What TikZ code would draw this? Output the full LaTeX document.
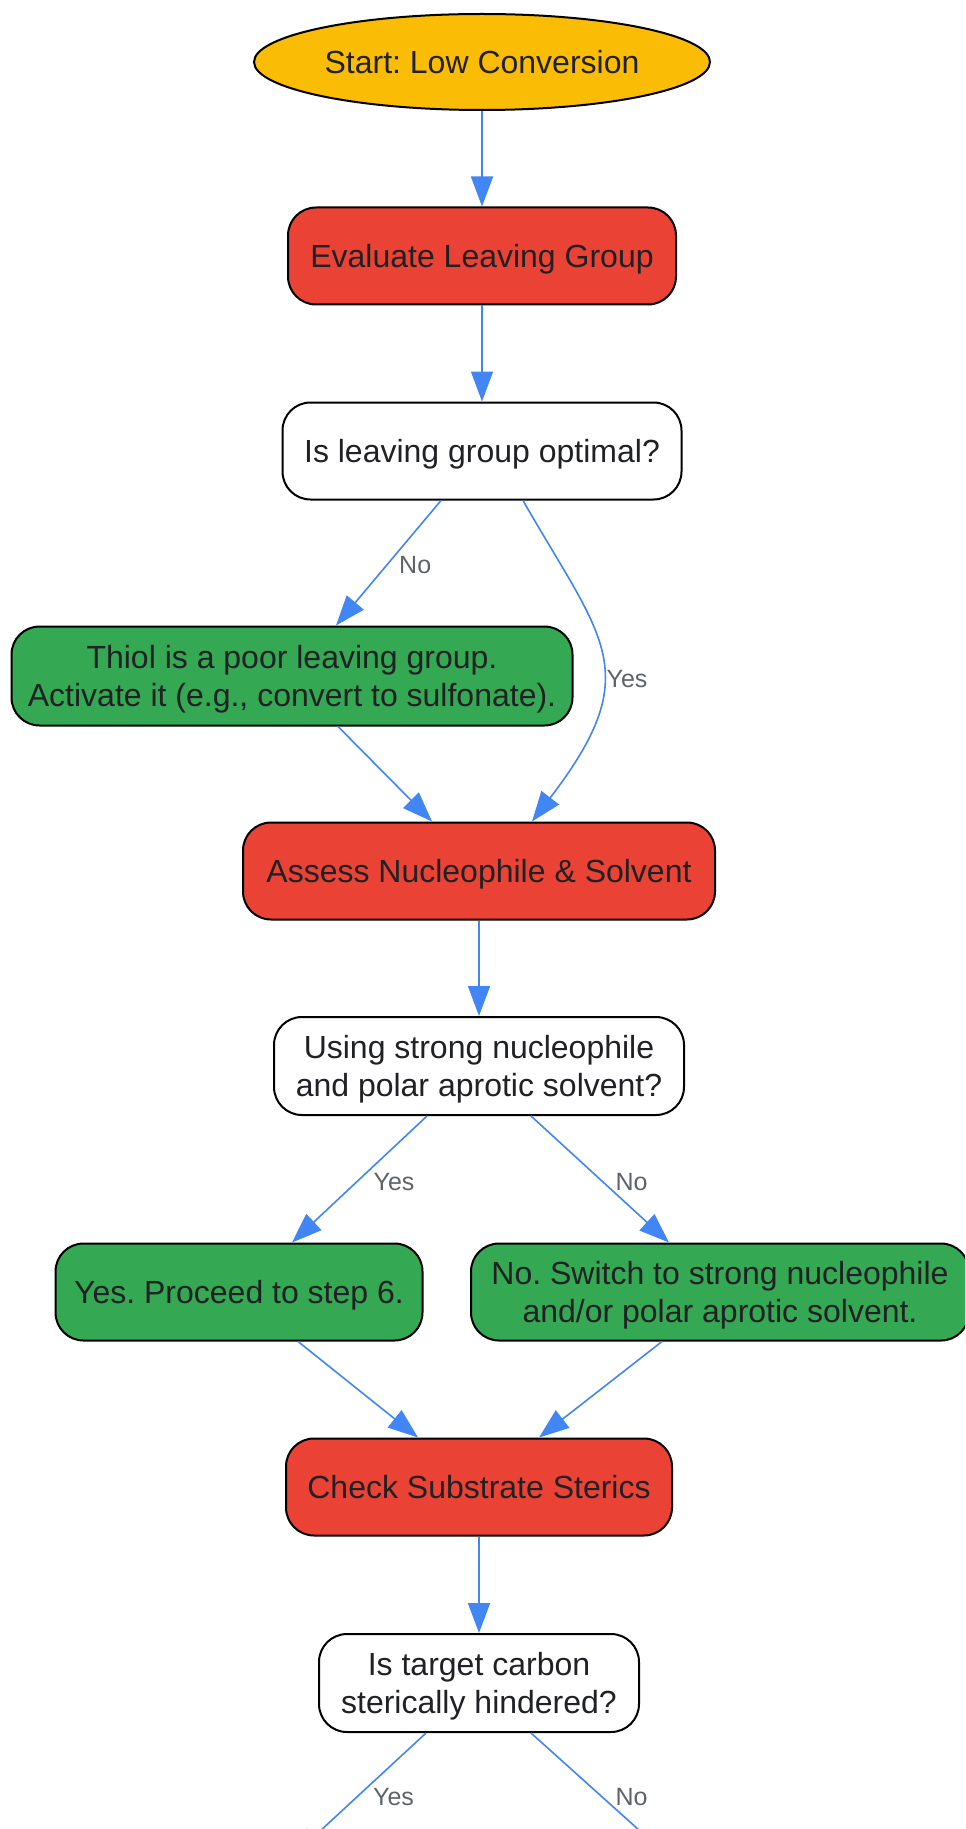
\documentclass[tikz,border=0pt]{standalone}
\usepackage{fontspec}
\setmainfont{Liberation Sans}
\usetikzlibrary{arrows.meta,shapes}

\definecolor{gyellow}{HTML}{FBBC05}
\definecolor{gred}{HTML}{EA4335}
\definecolor{ggreen}{HTML}{34A853}
\definecolor{gblue}{HTML}{4285F4}
\definecolor{ink}{HTML}{202124}
\definecolor{lblgray}{HTML}{5F6368}

\frenchspacing

\begin{document}
\begin{tikzpicture}[x=0.5pt,y=-0.5pt,>={Triangle[length=15pt,width=11pt]},
    box/.style={draw=black,line width=1pt,rounded corners=14pt,align=center,
        text=ink,font=\fontsize{16}{19.3}\selectfont,inner sep=0pt,
        text depth=0pt,minimum height=48.5pt},
    startnode/.style={ellipse,draw=black,line width=1pt,fill=gyellow,text=ink,
        font=\fontsize{16}{19.3}\selectfont,inner sep=0pt,minimum width=228pt,minimum height=48pt},
    task/.style={box,fill=gred},
    question/.style={box,fill=white},
    action/.style={box,fill=ggreen},
    wire/.style={color=gblue,line width=0.8pt},
    every edge/.append style={wire},
    lbl/.style={text=lblgray,font=\fontsize{12.5}{15}\selectfont,inner sep=2pt}]
    \useasboundingbox (0,0) rectangle (965,1829);
    \clip (0,0) rectangle (965,1829);

    \node[startnode] (start) at (482,62) {Start: Low Conversion};
    \node[task,minimum width=194pt] (evallg) at (482,256) {Evaluate Leaving Group};
    \node[question,minimum width=199.5pt] (lgopt) at (482,451) {Is leaving group optimal?};
    \node[action,minimum width=280.5pt,minimum height=49.5pt] (thiol) at (292,676)
        {Thiol is a poor leaving group.\\Activate it (e.g., convert to sulfonate).};
    \node[task,minimum width=236pt] (assess) at (479,871) {Assess Nucleophile \& Solvent};
    \node[question,minimum width=205pt,minimum height=49pt] (nucq) at (479,1066)
        {Using strong nucleophile\\and polar aprotic solvent?};
    \node[action,minimum width=183.5pt] (proceed) at (239,1292) {Yes. Proceed to step 6.};
    \node[action,minimum width=249pt] (switch) at (720,1292)
        {No. Switch to strong nucleophile\\and/or polar aprotic solvent.};
    \node[task,minimum width=193pt] (sterics) at (479,1487) {Check Substrate Sterics};
    \node[question,minimum width=160pt,minimum height=49pt] (carbq) at (479,1683)
        {Is target carbon\\sterically hindered?};
    \coordinate (hyes) at (292,1857);
    \coordinate (hno) at (669,1857);

    \path[->]
        (start) edge (evallg)
        (evallg) edge (lgopt)
        ([xshift=-20.5pt]lgopt.south) edge node[lbl,right=4pt,pos=0.52] {No} ([xshift=22pt]thiol.north)
        ([xshift=23pt]thiol.south) edge ([xshift=-23.5pt]assess.north)
        (assess) edge (nucq)
        ([xshift=-26pt]nucq.south) edge node[lbl,right=6pt,pos=0.52] {Yes} ([xshift=26.5pt]proceed.north)
        ([xshift=26pt]nucq.south) edge node[lbl,right=4pt,pos=0.52] {No} ([xshift=-25.5pt]switch.north)
        ([xshift=29.5pt]proceed.south) edge ([xshift=-30.5pt]sterics.north)
        ([xshift=-29pt]switch.south) edge ([xshift=30pt]sterics.north)
        (sterics) edge (carbq)
        ([xshift=-26.5pt]carbq.south) edge node[lbl,right=6pt,pos=0.52] {Yes} (hyes)
        ([xshift=26pt]carbq.south) edge node[lbl,right=4pt,pos=0.52] {No} (hno);
    \draw[->,wire] ([xshift=20.5pt]lgopt.south) .. controls +(80,140) and +(115,-150) ..
        ([xshift=26.5pt]assess.north) node[lbl,right=0pt,pos=0.58] {Yes};
\end{tikzpicture}
\end{document}
